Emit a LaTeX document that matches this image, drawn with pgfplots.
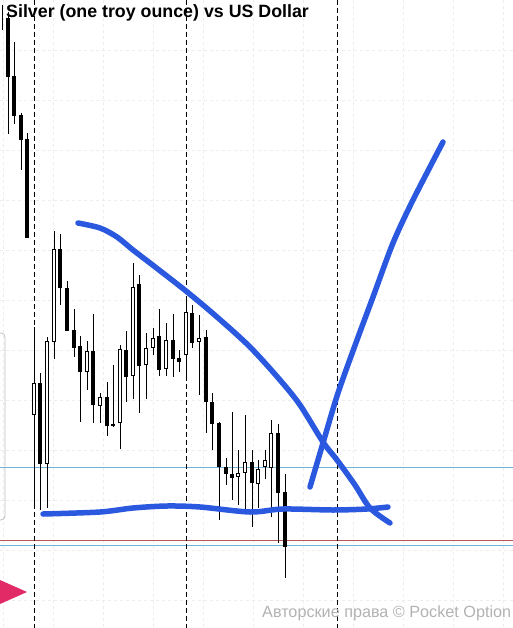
\documentclass[border=0pt]{standalone}
\usepackage{fontspec}
\setmainfont{Liberation Sans}
\usepackage{pgfplots}
\usepackage{pgfplotstable}
\pgfplotsset{compat=1.18}

\definecolor{pen}{RGB}{42,88,222}
\definecolor{lvl}{RGB}{110,180,215}
\definecolor{redlvl}{RGB}{185,85,85}
\definecolor{marker}{RGB}{226,42,102}

% everything in screen pixels: x to the right, y downwards
% black candles: body top/bot, wick hi/lo
\pgfplotstableread{
x   top   bot   hi   lo
2   14    14    5    30
8   18    77    12   134
14  76    116   42   124
21  115   140   113  170
27  139   238   133  238
40  383   464   373  510
60  249   288   234  305
67  288   331   281  331
74  330   348   309  357
80  346   372   336  422
93  351   405   314  423
107 397   426   382  436
113 423.5 425.5 365  427
126 350   377   331  402
139 284   366   275  413
159 336   370   309  376
173 340   359   314  377
179 358   362   350  372
192 313   343   305  348
206 337   402   330  433
212 402   424   393  450
219 423   467   422  520
226 467   474   458  485
232 474   478   412  500
252 462   483   450  527
278 433   493   424  543
285 492   547   474  578
}\bear

% hollow candles
\pgfplotstableread{
x   top   bot   hi   lo
34  383   415   327  505
47  341   464   337  508
54  249   342   231  359
87  351   372   341  390
100 397   406   393  423
120 349   423   345  449
133 287   376   263  399
146 348   365   333  399
153 338   348   328  355
166 340   369   323  376
186 312   355   296  377
199 338   341.5 315  395
238 473   477   450  505
245 462   473   415  510
258 469   484   460  508
265 460   467   450  479
271 433   468   420  517
}\bull

\begin{document}
\begin{tikzpicture}
\begin{axis}[
    scale only axis,
    width=513pt, height=628pt,
    xmin=0, xmax=513, ymin=0, ymax=628,
    y dir=reverse,
    hide axis,
    clip=true,
    bars/.style={draw=none, mark=none, error bars/.cd, y dir=plus, y explicit, error mark=none},
]
% faint background grid
\pgfplotsinvokeforeach{3,53,103,153,203,253,303,353,403,453,503}{
  \addplot[black!7, dashed, line width=0.6pt] coordinates {(#1,0) (#1,628)};
}
\pgfplotsinvokeforeach{50,100,150,200,250,300,350,400,450,500,550,600}{
  \addplot[black!7, dashed, line width=0.6pt] coordinates {(0,#1) (513,#1)};
}

% price levels
\addplot[lvl, line width=1pt] coordinates {(0,467) (513,467)};
\addplot[redlvl, line width=1.1pt] coordinates {(0,540.5) (513,540.5)};
\addplot[lvl, line width=1pt] coordinates {(0,545.5) (513,545.5)};

% session separators
\addplot[black, line width=0.9pt, dash pattern=on 5pt off 3pt] coordinates {(34,0) (34,628)};
\addplot[black, line width=0.9pt, dash pattern=on 5pt off 3pt] coordinates {(186,0) (186,628)};
\addplot[black, line width=0.9pt, dash pattern=on 5pt off 3pt] coordinates {(337,0) (337,628)};

% wicks
\addplot[bars, error bar style={draw=black, line width=0.9pt}]
  table[x=x, y=hi, y error expr=\thisrow{lo}-\thisrow{hi}] {\bear};
\addplot[bars, error bar style={draw=black, line width=0.9pt}]
  table[x=x, y=hi, y error expr=\thisrow{lo}-\thisrow{hi}] {\bull};

% bodies
\addplot[bars, error bar style={draw=black, line width=4.4pt}]
  table[x=x, y=top, y error expr=\thisrow{bot}-\thisrow{top}] {\bear};
\addplot[bars, error bar style={draw=black, line width=4.6pt}]
  table[x=x, y=top, y error expr=\thisrow{bot}-\thisrow{top}] {\bull};
\addplot[bars, error bar style={draw=white, line width=2.6pt}]
  table[x=x, y expr=\thisrow{top}+1, y error expr=\thisrow{bot}-\thisrow{top}-2] {\bull};

% hand drawn lines
\addplot[pen, line width=5.5pt, line cap=round, smooth, tension=0.5] coordinates {
  (78,223) (100,228) (117,237) (133,250) (150,263) (186,291) (217,317)
  (250,347) (280,380) (300,405) (323,442) (337,460) (355,485) (370,508) (390,523)};
\addplot[pen, line width=5.5pt, line cap=round, smooth, tension=0.5] coordinates {
  (43,514) (100,512) (133,508) (167,506) (200,507) (250,512) (283,509)
  (333,510) (367,509) (388,507)};
\addplot[pen, line width=5.5pt, line cap=round, smooth, tension=0.5] coordinates {
  (310,487) (323,443) (338,393) (357,340) (373,297) (393,243) (413,200) (443,142)};

% left panel edge and marker
\addplot[black!25, line width=0.8pt, rounded corners=4pt] coordinates {(-3,333) (5,333) (5,520) (-3,520)};
\addplot[marker, draw=none, fill=marker] coordinates {(0,580) (27,592) (0,604)} -- cycle;

\node[anchor=base west, inner sep=0pt, font=\bfseries\fontsize{17.8}{20}\selectfont]
  at (axis cs:6,18) {Silver (one troy ounce) vs US Dollar};
\node[anchor=base west, inner sep=0pt, text=black!30, font=\fontsize{16.2}{18}\selectfont]
  at (axis cs:262,617) {Авторские права © Pocket Option};
\end{axis}
\end{tikzpicture}
\end{document}
